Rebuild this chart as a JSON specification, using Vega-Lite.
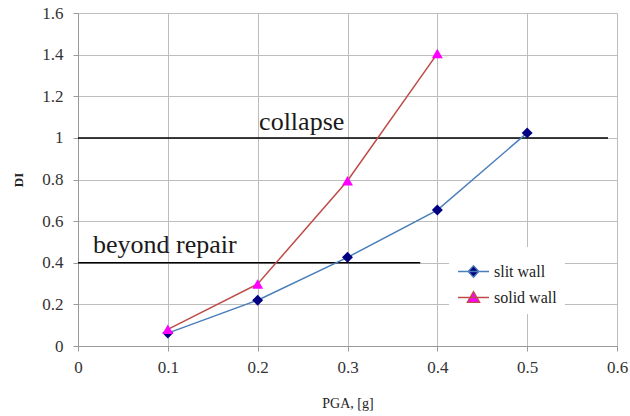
{
  "$schema": "https://vega.github.io/schema/vega-lite/v6.json",
  "width": 539,
  "height": 333,
  "autosize": {"type": "none"},
  "padding": {"left": 78, "top": 13, "right": 13, "bottom": 70},
  "background": "white",
  "datasets": {
    "series": [
      {"pga": 0.1, "di": 0.062, "wall": "slit wall"},
      {"pga": 0.2, "di": 0.22, "wall": "slit wall"},
      {"pga": 0.3, "di": 0.426, "wall": "slit wall"},
      {"pga": 0.4, "di": 0.653, "wall": "slit wall"},
      {"pga": 0.5, "di": 1.024, "wall": "slit wall"},
      {"pga": 0.1, "di": 0.08, "wall": "solid wall"},
      {"pga": 0.2, "di": 0.298, "wall": "solid wall"},
      {"pga": 0.3, "di": 0.794, "wall": "solid wall"},
      {"pga": 0.4, "di": 1.405, "wall": "solid wall"}
    ],
    "limits": [
      {"label": "collapse", "level": 1.0, "x_from": 0, "x_to": 0.59, "label_x": 0.2016, "label_y": 1.037},
      {"label": "beyond repair", "level": 0.4, "x_from": 0, "x_to": 0.381, "label_x": 0.0167, "label_y": 0.445}
    ]
  },
  "config": {
    "view": {"stroke": null},
    "font": "Liberation Serif",
    "axis": {
      "labelFont": "Liberation Serif",
      "labelFontSize": 17,
      "labelColor": "#333333",
      "titleFont": "Liberation Serif",
      "titleColor": "#222222",
      "gridColor": "#bdbdbd",
      "gridWidth": 1,
      "gridOpacity": 1,
      "domainColor": "#9a9a9a",
      "tickColor": "#9a9a9a",
      "tickSize": 5
    }
  },
  "layer": [
    {
      "data": {"name": "limits"},
      "mark": {"type": "rule", "color": "black", "strokeWidth": 1.5},
      "encoding": {
        "x": {"field": "x_from", "type": "quantitative", "scale": {"domain": [0, 0.6], "nice": false},
          "axis": {"values": [0, 0.1, 0.2, 0.3, 0.4, 0.5, 0.6], "format": "~g", "title": "PGA, [g]",
            "titleFontSize": 14, "titleFontWeight": "normal", "titleY": 57, "titleBaseline": "middle",
            "labelPadding": 8, "labelFlush": false}},
        "x2": {"field": "x_to"},
        "y": {"field": "level", "type": "quantitative", "scale": {"domain": [0, 1.6], "nice": false},
          "axis": {"values": [0, 0.2, 0.4, 0.6, 0.8, 1, 1.2, 1.4, 1.6], "format": "~g", "title": "DI",
            "titleFontSize": 13, "titleFontWeight": "bold", "titleX": -60, "titleBaseline": "middle",
            "labelPadding": 10, "labelFlush": false}}
      }
    },
    {
      "data": {"name": "limits"},
      "mark": {"type": "text", "align": "left", "baseline": "alphabetic", "fontSize": 26, "font": "Liberation Serif", "color": "#1a1a1a"},
      "encoding": {
        "x": {"field": "label_x", "type": "quantitative"},
        "y": {"field": "label_y", "type": "quantitative"},
        "text": {"field": "label"}
      }
    },
    {
      "data": {"name": "series"},
      "mark": {"type": "line", "strokeWidth": 1.5},
      "encoding": {
        "x": {"field": "pga", "type": "quantitative"},
        "y": {"field": "di", "type": "quantitative"},
        "stroke": {"field": "wall", "type": "nominal",
          "scale": {"domain": ["slit wall", "solid wall"], "range": ["#4a7ebb", "#be4b48"]},
          "legend": {"title": null, "orient": "none", "legendX": 371, "legendY": 234,
            "symbolType": "M-1,0H1", "symbolSize": 961, "symbolStrokeWidth": 1.3,
            "labelFont": "Liberation Serif", "labelFontSize": 16, "labelColor": "#222222",
            "labelOffset": 4, "rowPadding": 1, "padding": 8, "fillColor": "white",
            "encode": {"symbols": {"update": {
              "shape": {"signal": "datum.value === 'slit wall' ? 'M-1,0H1M0,-0.37L0.35,0L0,0.37L-0.35,0Z' : 'M-1,0H1M0,-0.38L0.4,0.32L-0.4,0.32Z'"},
              "fill": {"signal": "datum.value === 'slit wall' ? '#000080' : '#ff00ff'"},
              "fillOpacity": {"value": 1}
            }}}}}
      }
    },
    {
      "data": {"name": "series"},
      "mark": {"type": "point", "filled": true, "size": 120, "opacity": 1, "strokeWidth": 0},
      "encoding": {
        "x": {"field": "pga", "type": "quantitative"},
        "y": {"field": "di", "type": "quantitative"},
        "fill": {"field": "wall", "type": "nominal", "scale": {"range": ["#000080", "#ff00ff"]}, "legend": null},
        "shape": {"field": "wall", "type": "nominal", "scale": {"range": ["diamond", "triangle-up"]}, "legend": null}
      }
    }
  ]
}
